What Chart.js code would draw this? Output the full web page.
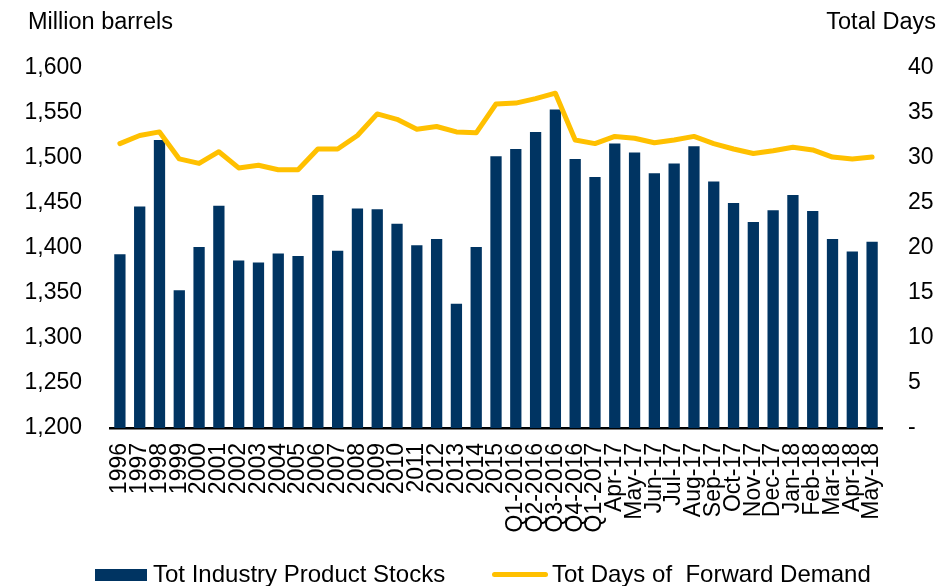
<!DOCTYPE html>
<html>
<head>
<meta charset="utf-8">
<script src="https://cdn.jsdelivr.net/npm/chart.js@4.4.1/dist/chart.umd.min.js"></script>
<style>
  body { margin: 0; background: #fff; font-family: "Liberation Sans", Arial, sans-serif; }
  #wrap { position: relative; width: 941px; height: 586px; overflow: hidden; }
  #chart { position: absolute; left: 0; top: 0; }
  .axis-title { position: absolute; top: 8px; font-size: 23.5px; color: #000; }
  .legend { position: absolute; top: 560px; font-size: 24px; color: #000; white-space: pre; }
  .swatch { position: absolute; }
</style>
</head>
<body>
<div id="wrap">
  <canvas id="chart" width="941" height="586"></canvas>
  <div class="axis-title" style="left:28px;">Million barrels</div>
  <div class="axis-title" style="right:5px;">Total Days</div>
  <div class="swatch" style="left:95px; top:569px; width:52px; height:12px; background:#003462;"></div>
  <div class="legend" style="left:153px;">Tot Industry Product Stocks</div>
  <div class="swatch" style="left:492px; top:572px; width:56px; height:5px; border-radius:3px; background:#FFC000;"></div>
  <div class="legend" style="left:552px;">Tot Days of  Forward Demand</div>
</div>
<script>
// ===== DATA =====
const categories = [
    '1996', '1997', '1998', '1999', '2000', '2001', '2002', '2003', '2004', '2005',
    '2006', '2007', '2008', '2009', '2010', '2011', '2012', '2013', '2014', '2015',
    'Q1-2016', 'Q2-2016', 'Q3-2016', 'Q4-2016', 'Q1-2017',
    'Apr-17', 'May-17', 'Jun-17', 'Jul-17', 'Aug-17', 'Sep-17', 'Oct-17', 'Nov-17', 'Dec-17',
    'Jan-18', 'Feb-18', 'Mar-18', 'Apr-18', 'May-18'
];

// million barrels
const productStocks = [
    1393, 1446, 1520, 1353, 1401, 1447, 1386, 1384, 1394, 1391,
    1459, 1397, 1444, 1443, 1427, 1403, 1410, 1338, 1401, 1502,
    1510, 1529, 1554, 1499, 1479,
    1516, 1506, 1483, 1494, 1513, 1474, 1450, 1429, 1442,
    1459, 1441, 1410, 1396, 1407
];

// days of forward demand
const forwardDays = [
    31.6, 32.5, 32.9, 29.9, 29.4, 30.7, 28.9, 29.2, 28.7, 28.7,
    31.0, 31.0, 32.5, 34.9, 34.3, 33.2, 33.5, 32.9, 32.8, 36.0,
    36.1, 36.6, 37.2, 32.0, 31.6,
    32.4, 32.2, 31.7, 32.0, 32.4, 31.6, 31.0, 30.5, 30.8,
    31.2, 30.9, 30.1, 29.9, 30.1
];

const leftTicks = { min: 1200, max: 1600, step: 50 };
const rightTicks = { min: 0, max: 40, step: 5 };

const tickFont = { family: '"Liberation Sans", Arial, sans-serif', size: 23 };

// ===== CHART =====
new Chart(document.getElementById('chart'), {
    type: 'bar',
    data: {
        labels: categories,
        datasets: [
            {
                type: 'line',
                label: 'Tot Days of  Forward Demand',
                data: forwardDays,
                yAxisID: 'y1',
                borderColor: '#FFC000',
                borderWidth: 5,
                borderCapStyle: 'round',
                borderJoinStyle: 'round',
                pointRadius: 0,
                tension: 0,
                order: 0
            },
            {
                type: 'bar',
                label: 'Tot Industry Product Stocks',
                data: productStocks,
                yAxisID: 'y',
                backgroundColor: '#003462',
                barPercentage: 0.57,
                categoryPercentage: 1,
                order: 1
            }
        ]
    },
    options: {
        responsive: false,
        animation: false,
        layout: { padding: { top: 68, left: 0, right: 0, bottom: 0 } },
        plugins: {
            legend: { display: false },
            tooltip: { enabled: false }
        },
        scales: {
            x: {
                grid: { display: false, drawTicks: false },
                border: { display: true, color: '#000', width: 2.5 },
                ticks: {
                    color: '#000',
                    font: tickFont,
                    autoSkip: false,
                    minRotation: 90,
                    maxRotation: 90,
                    padding: 15
                },
                afterFit: (scale) => { scale.height = 158; }
            },
            y: {
                position: 'left',
                min: leftTicks.min,
                max: leftTicks.max,
                grid: { display: false, drawTicks: false },
                border: { display: false },
                ticks: {
                    stepSize: leftTicks.step,
                    color: '#000',
                    font: tickFont,
                    padding: 28,
                    callback: (v) => v.toLocaleString('en-US')
                },
                afterFit: (scale) => { scale.width = 110; }
            },
            y1: {
                position: 'right',
                min: rightTicks.min,
                max: rightTicks.max,
                grid: { display: false, drawTicks: false },
                border: { display: false },
                ticks: {
                    stepSize: rightTicks.step,
                    color: '#000',
                    font: tickFont,
                    padding: 26,
                    callback: (v) => (v === 0 ? '-' : v)
                },
                afterFit: (scale) => { scale.width = 59; }
            }
        }
    }
});
</script>
</body>
</html>
